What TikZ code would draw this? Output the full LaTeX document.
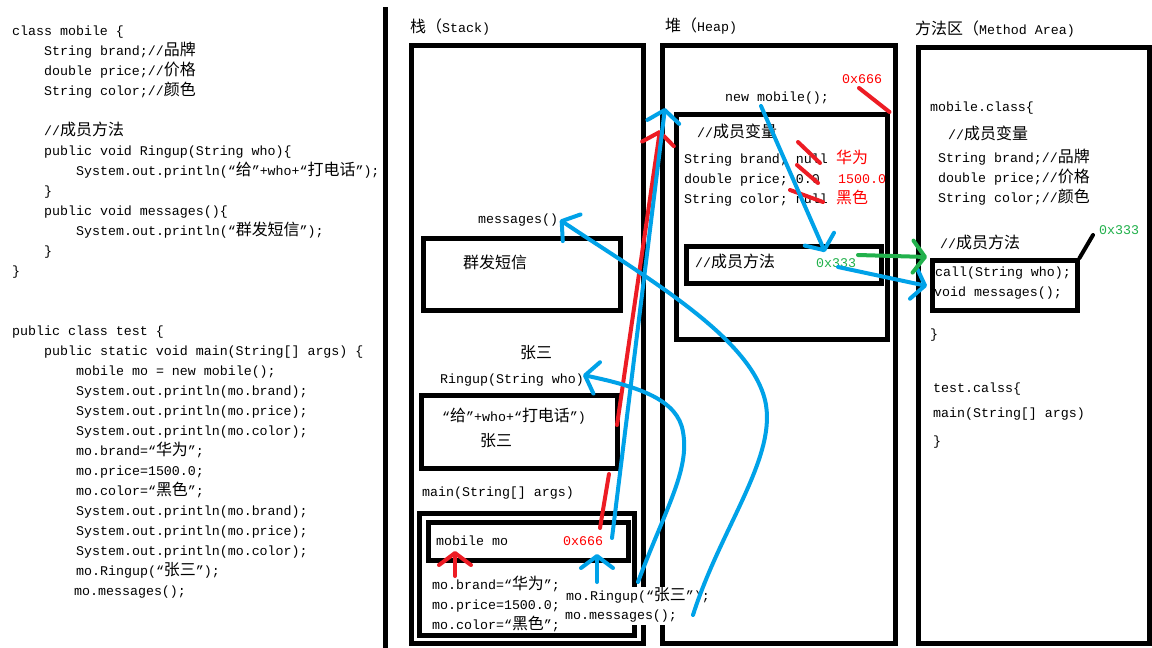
\documentclass[tikz,border=0pt]{standalone}
\usepackage{fontspec}
\setmainfont{Liberation Mono}
\newfontfamily\cjk[Scale=1.2]{Noto Sans CJK SC}
\newcommand{\zh}[1]{{\cjk #1}}
\usetikzlibrary{arrows.meta}
\definecolor{pblue}{RGB}{0,162,232}
\definecolor{pred}{RGB}{237,28,36}
\definecolor{pgreen}{RGB}{34,177,76}
\definecolor{tred}{RGB}{255,0,0}
\definecolor{tgreen}{RGB}{34,177,76}
\newcommand{\mybox}[5]{\node[frame,anchor=north west,inner sep=0pt,minimum width={(#4)-(#2)},minimum height={(#5)-(#3)}] (#1) at (#2,#3) {};}
\begin{document}
\begin{tikzpicture}[x=1pt,y=-1pt,
  every node/.style={font=\fontsize{13.3}{16}\selectfont},
  t/.style={anchor=base west, inner sep=0pt},
  frame/.style={draw, line width=4.5pt},
  pen/.style={line width=4pt, line cap=round, line join=round},
  tip/.style={-{Straight Barb[round, length=12pt, width=32pt]}},
  cover/.style={anchor=base west, inner xsep=1pt, inner ysep=2pt, text height=11pt, text depth=4pt, fill=white}
]
\useasboundingbox (0,0) rectangle (1152,648);
\fill[white] (0,0) rectangle (1152,648);

% separator
\coordinate (septop) at (385.5,7);
\coordinate (sepbot) at (385.5,648);
\draw[line width=4.5pt] (septop) -- (sepbot);

% ---------- left code ----------
\node[t] (c1) at (12,35) {class mobile \{};
\node[t] (c2) at (44,55) {String brand;//\zh{品牌}};
\node[t] (c3) at (44,75) {double price;//\zh{价格}};
\node[t] (c4) at (44,95) {String color;//\zh{颜色}};
\node[t] (c5) at (44,135) {//\zh{成员方法}};
\node[t] (c6) at (44,155) {public void Ringup(String who)\{};
\node[t] (c7) at (76,175) {System.out.println(“\zh{给}”+who+“\zh{打电话}”);};
\node[t] (c8) at (44,195) {\}};
\node[t] (c9) at (44,215) {public void messages()\{};
\node[t] (c10) at (76,235) {System.out.println(“\zh{群发短信}”);};
\node[t] (c11) at (44,255) {\}};
\node[t] (c12) at (12,275) {\}};

\node[t] (d1) at (12,335) {public class test \{};
\node[t] (d2) at (44,355) {public static void main(String[] args) \{};
\node[t] (d3) at (76,375) {mobile mo = new mobile();};
\node[t] (d4) at (76,395) {System.out.println(mo.brand);};
\node[t] (d5) at (76,415) {System.out.println(mo.price);};
\node[t] (d6) at (76,435) {System.out.println(mo.color);};
\node[t] (d7) at (76,455) {mo.brand=“\zh{华为}”;};
\node[t] (d8) at (76,475) {mo.price=1500.0;};
\node[t] (d9) at (76,495) {mo.color=“\zh{黑色}”;};
\node[t] (d10) at (76,515) {System.out.println(mo.brand);};
\node[t] (d11) at (76,535) {System.out.println(mo.price);};
\node[t] (d12) at (76,555) {System.out.println(mo.color);};
\node[t] (d13) at (76,575) {mo.Ringup(“\zh{张三}”);};
\node[t] (d14) at (74,595) {mo.messages();};

% ---------- titles ----------
\node[t] (tstack) at (410,32) {\zh{栈（}Stack)};
\node[t] (theap) at (665,31) {\zh{堆（}Heap)};
\node[t] (tmeth) at (915,34) {\zh{方法区（}Method Area)};

% ---------- frames ----------
\mybox{stack}{409}{43}{641}{641}
\mybox{heap}{660}{43}{893}{641}
\mybox{meth}{916}{45}{1147}{641}
\mybox{msgbox}{421}{236}{618}{308}
\mybox{ringbox}{419}{393}{615}{466}
\mybox{mainbox}{417}{511}{632}{633}
\mybox{mobox}{426}{520}{626}{558}
\mybox{heapobj}{674}{112}{885}{337}
\mybox{heapmeth}{684}{244}{879}{281}
\mybox{methbox}{930}{258}{1075}{308}

% ---------- stack texts ----------
\node[t] (msgs) at (478,223) {messages()};
\node[t] (qf) at (463,268) {\zh{群发短信}};
\node[t] (zs1) at (520,358) {\zh{张三}};
\node[t] (ringup) at (440,383) {Ringup(String who)};
\node[t] (gei) at (442,421) {“\zh{给}”+who+“\zh{打电话}”)};
\node[t] (zs2) at (480,446) {\zh{张三}};
\node[t] (mainlbl) at (422,496) {main(String[] args)};
\node[t] (mobmo) at (436,545) {mobile mo};
\node[t, text=tred] (addr1) at (563,545) {0x666};
\node[t] (s1) at (432,589) {mo.brand=“\zh{华为}”;};
\node[t] (s2) at (432,609) {mo.price=1500.0;};
\node[t] (s3) at (432,629) {mo.color=“\zh{黑色}”;};
\node[cover] (s4) at (565,600) {mo.Ringup(“\zh{张三}”);};
\node[cover] (s5) at (564,619) {mo.messages();};

% ---------- heap texts ----------
\node[t, text=tred] (addr2) at (842,83) {0x666};
\node[t] (newmob) at (725,101) {new mobile();};
\node[t] (hv) at (697,137) {//\zh{成员变量}};
\node[t] (h1) at (684,163) {String brand; null};
\node[t] (h2) at (684,183) {double price; 0.0};
\node[t] (h3) at (684,203) {String color; null};
\node[t, text=tred] (h1n) at (836,163) {\zh{华为}};
\node[t, text=tred] (h2n) at (838,183) {1500.0};
\node[t, text=tred] (h3n) at (836,203) {\zh{黑色}};
\node[t] (hm) at (695,267) {//\zh{成员方法}};
\node[t, text=tgreen] (addr3) at (816,267) {0x333};

% ---------- method area texts ----------
\node[t] (mc) at (930,111) {mobile.class\{};
\node[t] (mv) at (948,139) {//\zh{成员变量}};
\node[t] (m1) at (938,162) {String brand;//\zh{品牌}};
\node[t] (m2) at (938,182) {double price;//\zh{价格}};
\node[t] (m3) at (938,202) {String color;//\zh{颜色}};
\node[t] (mm) at (940,248) {//\zh{成员方法}};
\node[t, text=tgreen] (addr4) at (1099,234) {0x333};
\node[t] (mcall) at (935,276) {call(String who);};
\node[t] (mmsg) at (934,296) {void messages();};
\node[t] (mend) at (930,338) {\}};
\node[t] (tc) at (933,392) {test.calss\{};
\node[t] (tmain) at (933,417) {main(String[] args)};
\node[t] (tend) at (933,445) {\}};

% ---------- strike marks ----------
\draw[pen,pred] (798,142) -- (820,163);
\draw[pen,pred] (797,165) -- (818,183);
\draw[pen,pred] (790,190) -- (823,202);

% ---------- address links ----------
\coordinate (a2s) at (859,88);
\draw[pen,pred] (a2s) -- (heapobj.north east);
\coordinate (a4s) at (1093,235);
\draw[pen,black] (methbox.north east) -- (a4s);

% ---------- arrows ----------
% red: main 0x666 -> heap object
\coordinate (r0) at (600,528);
\coordinate (r1) at (609,474);
\coordinate (r2) at (617,425);
\coordinate (r3) at (660,130);
\draw[pen,pred] (r0) -- (r1);
\draw[pen,pred,tip] (r2) -- (r3);
% red: up to mobile mo
\coordinate (ru0) at (455,576);
\coordinate (ru1) at (455,551);
\draw[pen,pred,tip] (ru0) -- (ru1);

% blue: 0x666 -> heap
\coordinate (b0) at (612,538);
\coordinate (b1) at (665,108);
\draw[pen,pblue,tip] (b0) -- (b1);
% blue: up to 0x666
\coordinate (bu0) at (597,582);
\coordinate (bu1) at (597,554);
\draw[pen,pblue,tip] (bu0) -- (bu1);
% blue: new mobile -> 0x333
\coordinate (n0) at (761,106);
\coordinate (n1) at (825,252);
\draw[pen,pblue,tip] (n0) -- (n1);
% blue: 0x333 -> method area box
\coordinate (m0) at (838,267);
\coordinate (mt) at (927,286);
\draw[pen,pblue,tip] (m0) -- (mt);
% green: 0x333 -> method area box
\coordinate (g0) at (858,255);
\coordinate (gt) at (927,257);
\draw[pen,pgreen,tip] (g0) -- (gt);
% blue: mo.Ringup -> Ringup frame
\coordinate (rs) at (638,582);
\coordinate (rp) at (683,432);
\coordinate (re) at (583,375);
\draw[pen,pblue,tip] (rs) .. controls (665,510) and (690,470) .. (rp)
  .. controls (678,400) and (640,387) .. (re);
% blue: mo.messages -> messages frame
\coordinate (ms) at (693,615);
\coordinate (mp) at (766,405);
\coordinate (me) at (560,220);
\draw[pen,pblue,tip] (ms) .. controls (720,530) and (775,460) .. (mp)
  .. controls (755,340) and (650,280) .. (me);
\end{tikzpicture}
\end{document}
